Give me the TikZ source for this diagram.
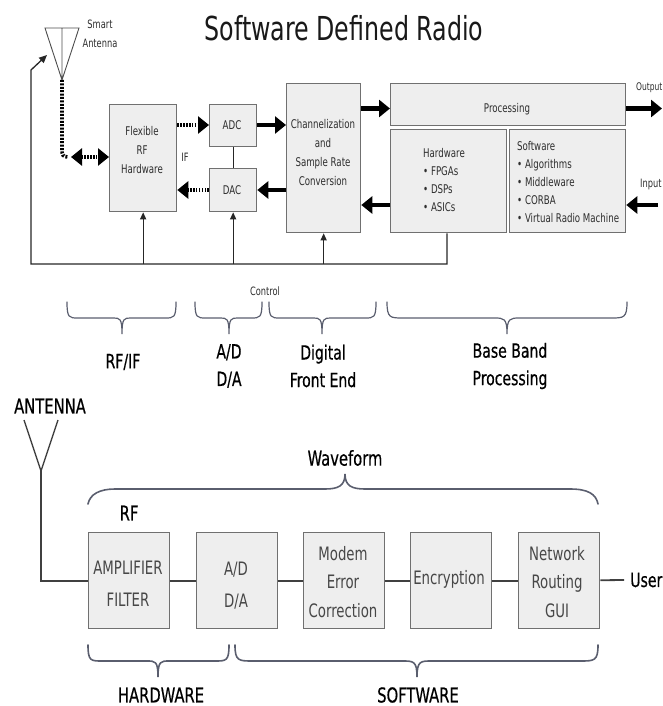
\documentclass[tikz,border=0pt]{standalone}
\usepackage{fontspec}
\setmainfont[FakeStretch=0.8]{DejaVu Sans Condensed}
\newfontfamily\heavierfont[FakeStretch=0.8,FakeBold=0.5]{DejaVu Sans Condensed}
\usetikzlibrary{arrows.meta,calc}
\definecolor{boxline}{HTML}{707070}
\definecolor{boxfill}{HTML}{EEEEEE}
\definecolor{inktext}{HTML}{2E2E2E}
\definecolor{bracecol}{HTML}{5A5E6E}
\tikzset{
  x=1pt,y=-1pt,
  block/.style={draw=boxline,fill=boxfill,line width=1.3pt,inner sep=0pt,anchor=north west},
  lab/.style={inner sep=0pt,text=inktext,align=center,font=\fontsize{12}{19}\selectfont},
  smalllab/.style={lab,font=\fontsize{11.5}{13}\selectfont},
  biglab/.style={inner sep=0pt,text=black,align=center,font=\heavierfont\fontsize{19.5}{27.5}\selectfont},
  lowlab/.style={inner sep=0pt,text=black,align=center,font=\heavierfont\fontsize{20.5}{24}\selectfont},
  boxlab/.style={inner sep=0pt,text=black!72,align=center,font=\fontsize{18.5}{28.5}\selectfont},
  boxlabtwo/.style={boxlab,font=\fontsize{18.5}{32}\selectfont},
  thickarrow/.style={line width=4.4pt,-{Triangle[length=11pt,width=17pt]}},
  dotarrow/.style={line width=4.4pt,dash pattern=on 1.6pt off 1.3pt,-{Triangle[length=11pt,width=17pt]}},
  dotdouble/.style={line width=4.4pt,dash pattern=on 1.6pt off 1.3pt,{Triangle[length=11pt,width=17pt]}-{Triangle[length=11pt,width=17pt]}},
  ctrl/.style={draw=black!85,line width=1.3pt},
  ctrlarrow/.style={ctrl,-{Triangle[length=7pt,width=6pt]}},
  wire/.style={draw=black!75,line width=1.8pt},
  bracel/.style={draw=bracecol,line width=1.2pt,line cap=round},
  bracelow/.style={bracel,line width=1.6pt},
}
% bottom-opening braces: x1, x2, xtip, ytop, ybar, ytip, radius, style
\newcommand{\lowbrace}[8]{%
  \draw[#8] (#1,#4) .. controls (#1,#5) and (#1+#7*.2,#5) .. (#1+#7,#5)
    -- (#3-#7*.8,#5) .. controls (#3-#7*.2,#5) and (#3,#5) .. (#3,#6)
    .. controls (#3,#5) and (#3+#7*.2,#5) .. (#3+#7*.8,#5)
    -- (#2-#7,#5) .. controls (#2-#7*.2,#5) and (#2,#5) .. (#2,#4);}
\begin{document}
\begin{tikzpicture}
\useasboundingbox (0,0) rectangle (663,706);
% title
\node[inner sep=0pt,text=black!90] (title) at (344,28) {\fontsize{33}{36}\selectfont Software Defined Radio};
% upper blocks
\node[block,minimum width=67pt,minimum height=107pt] (rf) at (109,104) {};
\node[block,minimum width=47pt,minimum height=42pt] (adc) at (209,104) {};
\node[block,minimum width=47pt,minimum height=43pt] (dac) at (209,168) {};
\node[block,minimum width=74pt,minimum height=149pt] (chan) at (286,83) {};
\node[block,minimum width=235pt,minimum height=42pt] (proc) at (390,83) {};
\node[block,minimum width=116pt,minimum height=103pt] (hw) at (390,129) {};
\node[block,minimum width=116pt,minimum height=103pt] (sw) at (509,129) {};
\node[lab] (rftext) at (142,150) {Flexible\\RF\\Hardware};
\node[lab] (adctext) at (232,125) {ADC};
\node[lab] (dactext) at (232,190) {DAC};
\node[lab] (chantext) at (323,153) {Channelization\\and\\Sample Rate\\Conversion};
\node[lab] (proctext) at (507,109) {Processing};
\node[lab,align=left,anchor=west,font=\fontsize{12}{18.3}\selectfont] (hwtext) at (423,180) {Hardware\\ \textbullet\ FPGAs\\ \textbullet\ DSPs\\ \textbullet\ ASICs};
\node[lab,align=left,anchor=west,font=\fontsize{12}{18.2}\selectfont] (swtext) at (517,182) {Software\\ \textbullet\ Algorithms\\ \textbullet\ Middleware\\ \textbullet\ CORBA\\ \textbullet\ Virtual Radio Machine};
% antenna
\coordinate (apex) at (62,80);
\coordinate (antl) at (45,28);
\coordinate (antr) at (79,28);
\coordinate (antc) at (62,28);
\draw[draw=black!70,line width=.9pt] (antl) -- (antr) -- (apex) -- cycle (antc) -- (apex);
\node[lab,font=\fontsize{11.5}{19}\selectfont] (smart) at (100,33.5) {Smart\\Antenna};
\node[smalllab] (if) at (185,157) {IF};
\node[smalllab,anchor=east,font=\fontsize{10.5}{13}\selectfont] (outl) at (662.5,88) {Output};
\node[smalllab,anchor=west] (inl) at (640,185) {Input};
\node[smalllab] (ctl) at (265,291) {Control};
% data paths
\coordinate (rfport) at (71,157);
\coordinate (outp) at (662,108.5);
\coordinate (inp) at (658,205);
\draw[line width=3.6pt,dash pattern=on 2pt off 1.4pt] (apex) -- (62,150) .. controls (62,155) and (63,157) .. (68,157);
\draw[dotdouble] (rfport) -- (rf.west |- rfport);
\draw[dotarrow] (rf.east |- adctext) -- (adc.west |- adctext);
\draw[dotarrow] (dac.west |- dactext) -- (rf.east |- dactext);
\draw[thickarrow] (adc.east |- adctext) -- (chan.west |- adctext);
\draw[thickarrow] (chan.west |- dactext) -- (dac.east |- dactext);
\draw[thickarrow] (chan.east |- outp) -- (proc.west |- outp);
\draw[thickarrow] (proc.east |- outp) -- (outp);
\draw[thickarrow] (inp) -- (sw.east |- inp);
\draw[thickarrow] (hw.west |- inp) -- (chan.east |- inp);
\draw[ctrl] (adc) -- (dac);
% control bus
\coordinate (busl) at (31,264);
\coordinate (busr) at (447,264);
\coordinate (antctl) at (31,70);
\coordinate (antctltip) at (47,55);
\draw[ctrl,-{Triangle[length=8pt,width=7pt]}] (hw.south -| busr) -- (busr) -- (busl) -- (antctl) -- (antctltip);
\draw[ctrlarrow] (rf.south |- busl) -- (rf.south);
\draw[ctrlarrow] (dac.south |- busl) -- (dac.south);
\draw[ctrlarrow] (chan.south |- busl) -- (chan.south);
% upper braces
\lowbrace{67}{176}{122}{302}{318}{334}{11}{bracel}
\lowbrace{195}{262}{229}{302}{318}{334}{11}{bracel}
\lowbrace{269}{376}{322}{302}{318}{334}{11}{bracel}
\lowbrace{387}{627}{507}{302}{318}{334}{16}{bracel}
\node[biglab] (l1) at (123,362) {RF/IF};
\node[biglab] (l2) at (229,366) {A/D\\D/A};
\node[biglab] (l3) at (323,366) {Digital\\Front End};
\node[biglab] (l4) at (510,366) {Base Band\\Processing};
% lower part
\node[lowlab] (antlabel) at (50,406) {ANTENNA};
\coordinate (bapex) at (41,471);
\coordinate (bl) at (24,420);
\coordinate (br) at (58,420);
\draw[wire,line width=1.4pt] (bl) -- (bapex) -- (br);
\node[lowlab] (wave) at (345,458) {Waveform};
\node[lowlab] (rflab) at (129,513) {RF};
\tikzset{lowbox/.style={block,minimum width=81pt,minimum height=96pt}}
\node[lowbox] (amp) at (88,532) {};
\node[lowbox] (ad) at (196,532) {};
\node[lowbox] (modem) at (303,532) {};
\node[lowbox] (enc) at (410,532) {};
\node[lowbox] (net) at (518,532) {};
\node[boxlabtwo] (amptext) at (128,584) {AMPLIFIER\\FILTER};
\node[boxlabtwo] (adtext) at (236,586) {A/D\\D/A};
\node[boxlab] (modemtext) at (343,582) {Modem\\Error\\Correction};
\node[boxlab] (enctext) at (449,579) {Encryption};
\node[boxlab] (nettext) at (557,582) {Network\\Routing\\GUI};
\node[lowlab,anchor=east,font=\heavierfont\fontsize{19.5}{24}\selectfont] (user) at (662.5,580) {User};
\coordinate (userend) at (624,580);
\draw[wire] (bapex) |- (amp.west);
\draw[wire] (amp) -- (ad);
\draw[wire] (ad) -- (modem);
\draw[wire] (modem) -- (enc);
\draw[wire] (enc) -- (net);
\draw[wire] (net) -- (userend);
% lower braces
\draw[bracelow] (88,504) .. controls (90,494) and (100,489) .. (115,489) -- (325,489) .. controls (338,489) and (345,486) .. (345,474) .. controls (345,486) and (352,489) .. (365,489) -- (570,489) .. controls (588,489) and (596,494) .. (598,504);
\lowbrace{88}{229}{158}{645}{661}{677}{14}{bracelow}
\lowbrace{235}{598}{417}{645}{661}{677}{18}{bracelow}
\node[lowlab] (hwlab) at (161,695) {HARDWARE};
\node[lowlab] (swlab) at (418,695) {SOFTWARE};
\end{tikzpicture}
\end{document}
